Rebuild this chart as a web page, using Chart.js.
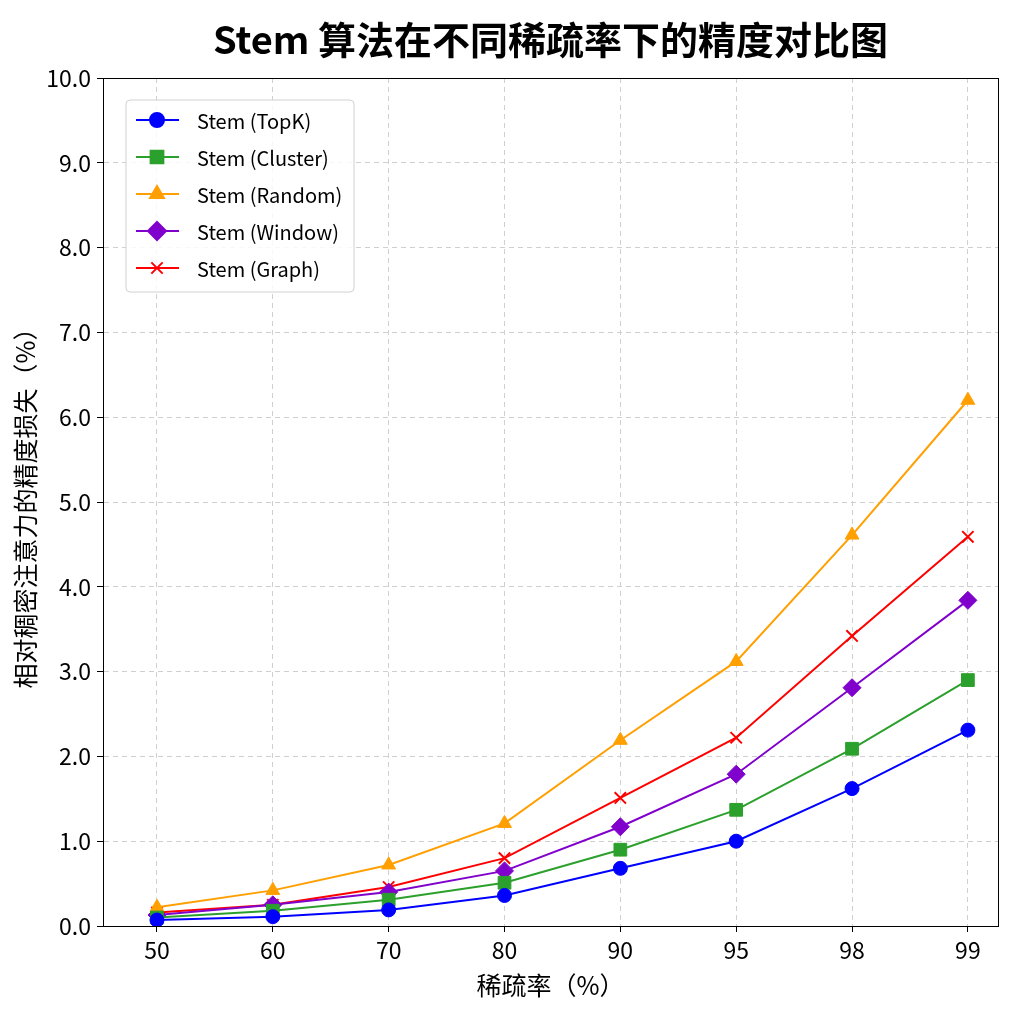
<!DOCTYPE html>
<html>
<head>
<meta charset="utf-8">
<script src="https://cdn.jsdelivr.net/npm/chart.js@4/dist/chart.umd.min.js"></script>
<style>
  html, body { margin: 0; padding: 0; background: #fff; }
  #wrap { width: 1024px; height: 1024px; }
</style>
</head>
<body>
<div id="wrap"><canvas id="chart" width="1024" height="1024"></canvas></div>
<script>
// data
const categories = ['50', '60', '70', '80', '90', '95', '98', '99'];
const topk    = [0.07, 0.11, 0.19, 0.36, 0.68, 1.00, 1.62, 2.31];
const cluster = [0.10, 0.18, 0.31, 0.51, 0.90, 1.37, 2.09, 2.90];
const random  = [0.22, 0.42, 0.72, 1.21, 2.19, 3.12, 4.61, 6.20];
const windowS = [0.13, 0.25, 0.40, 0.65, 1.17, 1.79, 2.81, 3.84];
const graph   = [0.16, 0.25, 0.46, 0.80, 1.51, 2.22, 3.42, 4.59];
const yTicks  = [0, 1, 2, 3, 4, 5, 6, 7, 8, 9, 10];

const FONT = '"Noto Sans CJK SC", "Noto Sans", sans-serif';

function series(label, values, color, style, radius) {
    return {
        label: label,
        data: values.map((v, i) => ({ x: i, y: v })),
        borderColor: color,
        backgroundColor: color,
        pointStyle: style,
        pointRadius: radius,
        pointHoverRadius: radius,
        pointBorderWidth: style === 'crossRot' ? 2 : 1,
        borderWidth: 2,
        tension: 0
    };
}

const datasets = [
    series('Stem (TopK)', topk, '#0000ff', 'circle', 7),
    series('Stem (Cluster)', cluster, '#2ca02c', 'rect', 9),
    series('Stem (Random)', random, '#ff9f00', 'triangle', 8),
    series('Stem (Window)', windowS, '#8000cc', 'rectRot', 9),
    series('Stem (Graph)', graph, '#ff0000', 'crossRot', 8)
];

// title, full frame and the in-plot legend
const decorations = {
    id: 'decorations',
    afterDraw(chart) {
        const ctx = chart.ctx;
        const a = chart.chartArea;
        ctx.save();

        ctx.strokeStyle = '#000';
        ctx.lineWidth = 1;
        ctx.strokeRect(a.left + 0.5, a.top + 0.5, a.right - a.left, a.bottom - a.top);

        ctx.fillStyle = '#000';
        ctx.font = 'bold 38px ' + FONT;
        ctx.textAlign = 'center';
        ctx.textBaseline = 'middle';
        ctx.fillText('Stem 算法在不同稀疏率下的精度对比图', (a.left + a.right) / 2, 40);

        // legend box
        const bx = 126, by = 100, bw = 228, bh = 192, r = 4;
        ctx.beginPath();
        ctx.moveTo(bx + r, by);
        ctx.arcTo(bx + bw, by, bx + bw, by + bh, r);
        ctx.arcTo(bx + bw, by + bh, bx, by + bh, r);
        ctx.arcTo(bx, by + bh, bx, by, r);
        ctx.arcTo(bx, by, bx + bw, by, r);
        ctx.closePath();
        ctx.fillStyle = 'rgba(255,255,255,0.85)';
        ctx.fill();
        ctx.strokeStyle = '#d0d0d0';
        ctx.stroke();

        chart.data.datasets.forEach((ds, i) => {
            const y = 120 + i * 37;
            ctx.strokeStyle = ds.borderColor;
            ctx.lineWidth = 2;
            ctx.beginPath();
            ctx.moveTo(136, y);
            ctx.lineTo(179, y);
            ctx.stroke();
            ctx.fillStyle = ds.backgroundColor;
            Chart.helpers.drawPoint(ctx, {
                pointStyle: ds.pointStyle,
                radius: ds.pointRadius,
                rotation: 0,
                borderWidth: ds.pointBorderWidth
            }, 157, y);
            ctx.fillStyle = '#000';
            ctx.font = '20px ' + FONT;
            ctx.textAlign = 'left';
            ctx.textBaseline = 'middle';
            ctx.fillText(ds.label, 197, y + 1);
        });
        ctx.restore();
    }
};

new Chart(document.getElementById('chart'), {
    type: 'line',
    data: { datasets: datasets },
    options: {
        responsive: false,
        animation: false,
        layout: { padding: { top: 78, right: 26, left: 0, bottom: 0 } },
        plugins: {
            legend: { display: false },
            tooltip: { enabled: false }
        },
        scales: {
            x: {
                type: 'linear',
                min: -0.466,
                max: 7.26,
                afterFit: (s) => { s.height = 98; },
                afterBuildTicks: (s) => { s.ticks = categories.map((c, i) => ({ value: i })); },
                ticks: {
                    callback: (v) => categories[v],
                    color: '#000',
                    font: { family: FONT, size: 23 },
                    padding: 4,
                    maxRotation: 0,
                    autoSkip: false
                },
                grid: {
                    color: '#d0d0d0',
                    tickColor: '#000',
                    tickLength: 6,
                    tickBorderDash: []
                },
                border: { color: '#000', dash: [5, 4] },
                title: {
                    display: true,
                    text: '稀疏率（%）',
                    color: '#000',
                    font: { family: FONT, size: 25 },
                    padding: { top: 2, bottom: 24 }
                }
            },
            y: {
                min: 0,
                max: 10,
                afterFit: (s) => { s.width = 103; },
                afterBuildTicks: (s) => { s.ticks = yTicks.map((v) => ({ value: v })); },
                ticks: {
                    callback: (v) => v.toFixed(1),
                    color: '#000',
                    font: { family: FONT, size: 23 },
                    padding: 6
                },
                grid: {
                    color: '#d0d0d0',
                    tickColor: '#000',
                    tickLength: 6,
                    tickBorderDash: []
                },
                border: { color: '#000', dash: [5, 4] },
                title: {
                    display: true,
                    text: '相对稠密注意力的精度损失（%）',
                    color: '#000',
                    font: { family: FONT, size: 25 },
                    padding: { top: 10, bottom: 0 }
                }
            }
        }
    },
    plugins: [decorations]
});
</script>
</body>
</html>
